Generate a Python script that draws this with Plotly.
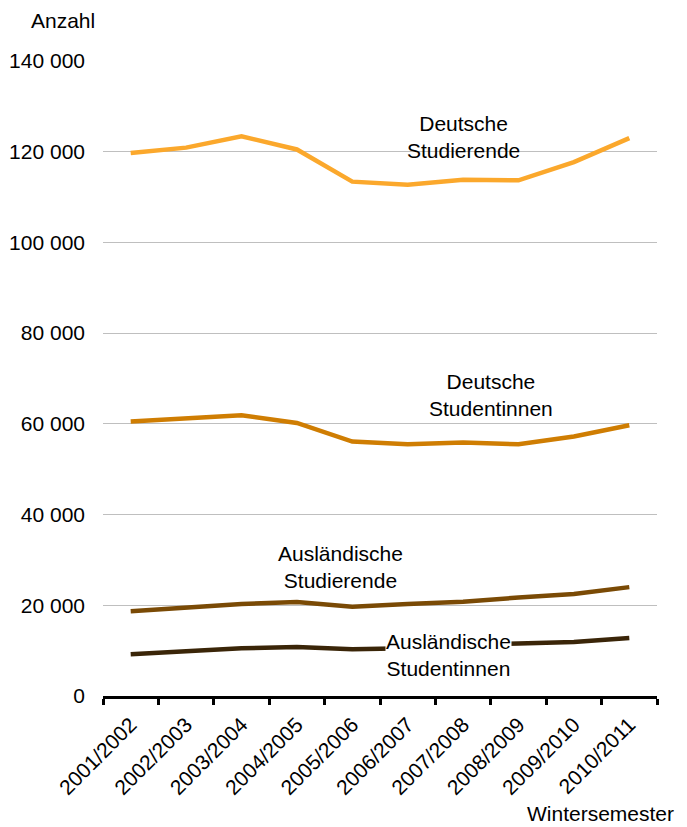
import plotly.graph_objects as go

semester = ["2001/2002", "2002/2003", "2003/2004", "2004/2005", "2005/2006",
            "2006/2007", "2007/2008", "2008/2009", "2009/2010", "2010/2011"]
deutsche_studierende = [119700, 120900, 123400, 120500, 113400, 112700, 113800, 113700, 117700, 123000]
deutsche_studentinnen = [60500, 61200, 61900, 60200, 56100, 55500, 55900, 55500, 57200, 59700]
auslaendische_studierende = [18700, 19400, 20300, 20700, 19700, 20300, 20800, 21700, 22500, 24000]
auslaendische_studentinnen = [9200, 9900, 10500, 10800, 10300, 10500, 11200, 11600, 11900, 12800]

series = [
    ("Deutsche Studierende", deutsche_studierende, "#FBA82C"),
    ("Deutsche Studentinnen", deutsche_studentinnen, "#CF7D02"),
    ("Ausländische Studierende", auslaendische_studierende, "#7A4A05"),
    ("Ausländische Studentinnen", auslaendische_studentinnen, "#3A2508"),
]

FONT = "Liberation Sans, Arial, sans-serif"
FS = 21
fig = go.Figure()
for name, vals, col in series:
    fig.add_trace(go.Scatter(x=semester, y=vals, mode="lines", name=name,
                             line=dict(color=col, width=4.5)))

# page has an 8px body margin; figure placed at (8, 8)
fig.update_layout(
    width=679, height=819,
    margin=dict(l=95, r=30, t=53, b=131, autoexpand=False),
    paper_bgcolor="white", plot_bgcolor="white",
    showlegend=False,
    separators=", ",
    font=dict(family=FONT, size=FS, color="#000000"),
)
fig.update_xaxes(
    type="category", tickson="boundaries", ticks="outside", ticklen=6, tickwidth=3,
    tickcolor="black", showline=True, linecolor="black", linewidth=3,
    showgrid=False, tickangle=-45, tickfont=dict(size=FS), range=[-0.5, 9.5],
    automargin=False, ticklabelstandoff=5,
)
fig.update_yaxes(
    range=[0, 140000], dtick=20000, tickformat=",d", showgrid=True,
    gridcolor="#BFBFBF", gridwidth=1, zeroline=False, showline=False,
    ticks="", ticklabelstandoff=17, tickfont=dict(size=FS), automargin=False,
)

ann = [
    ("Deutsche<br>Studierende", 463, 137, None),
    ("Deutsche<br>Studentinnen", 491, 395, None),
    ("Ausländische<br>Studierende", 340, 567, None),
    ("Ausländische<br>Studentinnen", 448, 655, "white"),
]
for text, px, py, bg in ann:
    fig.add_annotation(text=text, xref="paper", yref="paper",
                       x=(px - 103) / 554, y=(696 - py) / 635,
                       showarrow=False, xanchor="center", yanchor="middle",
                       font=dict(size=FS), bgcolor=bg, borderpad=0)

fig.add_annotation(text="Anzahl", xref="paper", yref="paper",
                   x=(63 - 103) / 554, y=(696 - 20) / 635,
                   showarrow=False, xanchor="center", yanchor="middle", font=dict(size=FS))
fig.add_annotation(text="Wintersemester", xref="paper", yref="paper",
                   x=(676 - 103) / 554, y=(696 - 813) / 635,
                   showarrow=False, xanchor="right", yanchor="middle", font=dict(size=FS))

fig.write_html("out.html")
